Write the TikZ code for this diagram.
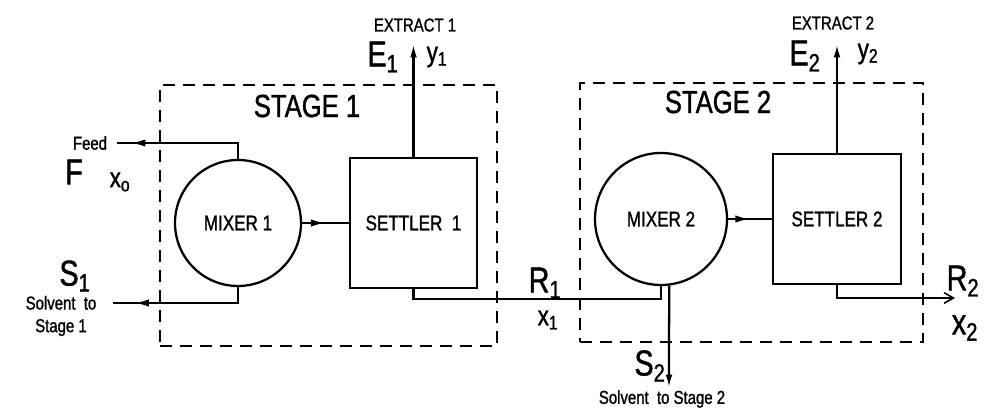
\documentclass[tikz,border=0pt]{standalone}
\usepackage{fontspec}
\setmainfont[FakeStretch=0.8, FakeBold=1.2]{Liberation Sans}
\usetikzlibrary{arrows.meta, positioning, calc, decorations.markings}

\begin{document}
\begin{tikzpicture}[x=0.75pt, y=-0.75pt, line width=1.7pt,
  unit/.style={draw, inner sep=0pt, font=\fontsize{16}{18}\selectfont},
  stagebox/.style={draw, dash pattern=on 9pt off 6pt, inner sep=0pt},
  flow/.style={-{Latex[length=10pt, width=5pt]}},
  midflow/.style={postaction={decorate}, decoration={markings, mark=at position #1 with {\arrow{Latex[length=11pt, width=5.5pt]}}}},
  sym/.style={font=\fontsize{27}{28}\selectfont, inner sep=0pt},
  var/.style={font=\fontsize{21}{22}\selectfont, inner sep=0pt},
  note/.style={font=\fontsize{14}{17}\selectfont, inner sep=0pt, align=center}]
  \useasboundingbox (0,0) rectangle (986,408);

  \node[stagebox, minimum width=252.75pt, minimum height=195.75pt] (stage1) at (328.5,215.5) {};
  \node[stagebox, minimum width=257.25pt, minimum height=194.25pt] (stage2) at (751.5,212.5) {};
  \node[font=\fontsize{24}{25}\selectfont] (stage1lbl) at (307,106) {STAGE 1};
  \node[font=\fontsize{24}{25}\selectfont] (stage2lbl) at (718,102) {STAGE 2};

  \node[unit, circle, minimum size=94.5pt] (mixer1) at (238,223) {MIXER 1};
  \node[unit, minimum width=95pt, minimum height=97.5pt] (settler1) at (413.5,223) {SETTLER\ \ 1};
  \node[unit, circle, minimum size=99pt] (mixer2) at (661,219) {MIXER 2};
  \node[unit, minimum width=96pt, minimum height=97pt] (settler2) at (837,219) {SETTLER 2};

  \node[note] (extract1) at (415,25) {EXTRACT 1};
  \node[note] (extract2) at (833,23) {EXTRACT 2};
  \node[sym] (e1) at (383,57) {E\textsubscript{1}};
  \node[var] (y1) at (437,57) {y\textsubscript{1}};
  \node[sym] (e2) at (805,56) {E\textsubscript{2}};
  \node[var] (y2) at (868,54) {y\textsubscript{2}};

  \node[note] (feedlbl) at (90,143) {Feed};
  \node[sym] (f) at (74,172) {F};
  \node[var] (x0) at (120,182) {x\textsubscript{o}};
  \node[sym] (s1) at (75,276) {S\textsubscript{1}};
  \node[note] (solv1) at (61,316) {Solvent\ \ to\\Stage 1};

  \node[sym] (r1lbl) at (545,283) {R\textsubscript{1}};
  \node[var] (x1) at (548,320) {x\textsubscript{1}};
  \node[sym] (r2lbl) at (963,281) {R\textsubscript{2}};
  \node[sym] (x2) at (965,328) {x\textsubscript{2}};
  \node[sym] (s2) at (650,366) {S\textsubscript{2}};
  \node[note] (solv2) at (662,399) {Solvent\ \ to Stage 2};

  \coordinate (feedend) at (117,143);
  \coordinate (solend) at (113,303);
  \coordinate (ext1) at (413.5,44);
  \coordinate (ext2) at (837,44);
  \coordinate (r1) at (661,299);
  \coordinate (s2end) at (669,388);
  \coordinate (r2end) at (955,298);

  \draw[midflow=0.9] (mixer1.north) |- (feedend);
  \draw[midflow=0.85] (mixer1.south) |- (solend);
  \draw[midflow=0.5] (mixer1.east) -- (settler1.west);
  \draw[flow] (settler1.north) -- (ext1);
  \draw (settler1.south) |- (r1) -- (mixer2.south);
  \draw[flow] (mixer2.-83) -- (s2end);
  \draw[midflow=0.5] (mixer2.east) -- (settler2.west);
  \draw[flow] (settler2.north) -- (ext2);
  \draw[-{Straight Barb[length=7pt, width=8pt]}, line width=1.2pt] (settler2.south) |- (r2end);
\end{tikzpicture}
\end{document}
